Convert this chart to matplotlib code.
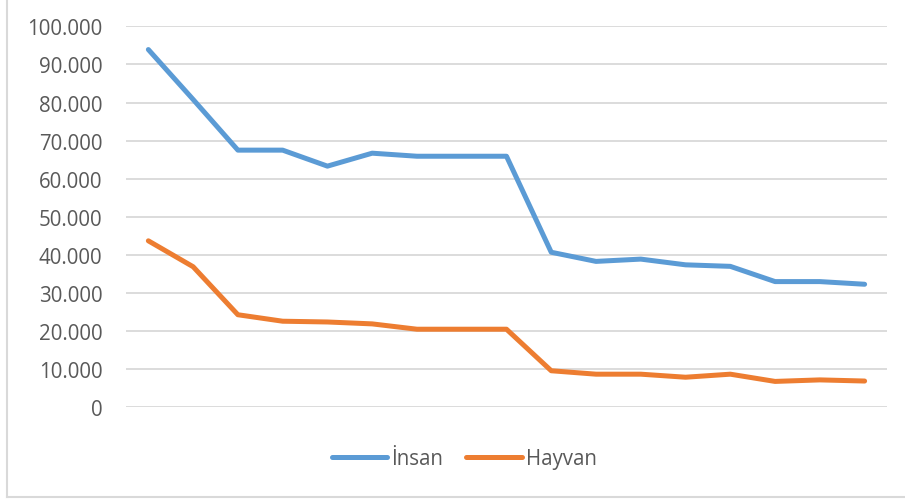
import matplotlib.pyplot as plt
from matplotlib.lines import Line2D
from matplotlib.ticker import FuncFormatter, MultipleLocator

# values (thousands)
insan = [93.9, 80.8, 67.5, 67.5, 63.3, 66.7, 65.9, 65.9, 65.9,
         40.7, 38.3, 38.9, 37.4, 37.0, 33.0, 33.0, 32.3]
hayvan = [43.7, 36.9, 24.3, 22.6, 22.4, 21.9, 20.5, 20.5, 20.5,
          9.6, 8.7, 8.7, 7.9, 8.7, 6.8, 7.2, 6.9]
series_names = ["İnsan", "Hayvan"]
colors = ["#5b9bd5", "#ed7d31"]

TEXT_COLOR = "#595959"
GRID_COLOR = "#d9d9d9"

plt.rcParams['font.family'] = ['Open Sans', 'DejaVu Sans']


def thousands(v, _pos):
    v = int(round(v))
    return f"{v:,}".replace(",", ".")


def main() -> None:
    fig = plt.figure(figsize=(9.05, 5.02), dpi=100)
    ax = fig.add_axes([0.1392, 0.1866, 0.8409, 0.759])

    x = range(len(insan))
    for vals, name, c in zip([insan, hayvan], series_names, colors):
        ax.plot(x, [v * 1000 for v in vals], color=c, lw=3.6,
                solid_capstyle='round', solid_joinstyle='round', label=name)

    ax.set_xlim(-0.5, len(insan) - 0.5)
    ax.set_ylim(0, 100000)
    ax.yaxis.set_major_locator(MultipleLocator(10000))
    ax.yaxis.set_major_formatter(FuncFormatter(thousands))
    ax.set_xticks([])
    ax.tick_params(axis='y', length=0, pad=17, labelsize=14.8, labelcolor=TEXT_COLOR)
    ax.grid(axis='y', color=GRID_COLOR, lw=1.3)
    ax.set_axisbelow(True)
    for s in ax.spines.values():
        s.set_visible(False)

    handles = [Line2D([], [], color=c, lw=3.6, solid_capstyle='round') for c in colors]
    fig.legend(handles, series_names, loc='center', bbox_to_anchor=(0.513, 0.0837),
               ncol=2, frameon=False, fontsize=14.8, labelcolor=TEXT_COLOR,
               handlelength=2.7, handletextpad=0.2, columnspacing=1.1)

    # outer chart border (left and bottom visible in the reference)
    fig.add_artist(Line2D([7 / 905, 7 / 905], [1 - 498 / 502, 1.0],
                          transform=fig.transFigure, color=GRID_COLOR, lw=1.5))
    fig.add_artist(Line2D([7 / 905, 1.0], [1 - 498 / 502, 1 - 498 / 502],
                          transform=fig.transFigure, color=GRID_COLOR, lw=1.5))

    fig.savefig("out.png", dpi=100, facecolor="white")


if __name__ == '__main__':
    main()
